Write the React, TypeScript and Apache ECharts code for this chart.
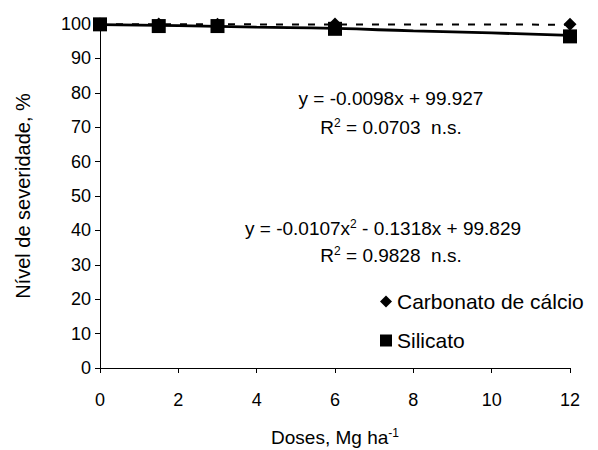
import React, { useEffect, useRef } from "react";
import * as echarts from "echarts";

const doses = [0, 1.5, 3, 6, 12];
const carbonato = [100, 100, 99.9, 100, 99.9];
const silicato = [99.9, 99.4, 99.4, 98.6, 96.4];
const trendX = [0, 12];
const carbonatoTrend = [99.93, 99.81];
const curveX = [0, 2, 4, 6, 8, 10, 12];
const silicatoCurve = [99.8, 99.5, 99.1, 98.7, 98.0, 97.4, 96.7];
const xTicks = [0, 2, 4, 6, 8, 10, 12];
const yTicks = [0, 10, 20, 30, 40, 50, 60, 70, 80, 90, 100];

const FONT = "'Liberation Sans', Arial, sans-serif";
const ANN = 19;

export default function App() {
  const ref = useRef<HTMLDivElement>(null);
  useEffect(() => {
    if (!ref.current) return;
    const chart = echarts.init(ref.current, undefined, { renderer: "svg" });
    const sup = { fontSize: 12, fontFamily: FONT, color: "#000", padding: [0, 0, 9, 0] };
    const base = { fontSize: ANN, fontFamily: FONT, color: "#000" };
    const txt = (text: string, x: number, y: number, size = ANN, rotation = 0) => ({
      type: "text",
      x,
      y,
      rotation,
      style: {
        text,
        x: 0,
        y: 0,
        textAlign: "center",
        textVerticalAlign: "middle",
        fontSize: size,
        fontFamily: FONT,
        fill: "#000",
        rich: { sup, n: { ...base, fontSize: size } },
      },
    });
    chart.setOption({
      animation: false,
      textStyle: { fontFamily: FONT },
      grid: {
        left: 100,
        right: 28,
        top: 24,
        bottom: 82,
        containLabel: false,
        outerBoundsMode: "none",
      },
      xAxis: {
        type: "value",
        min: xTicks[0],
        max: xTicks[xTicks.length - 1],
        interval: 2,
        axisLine: { lineStyle: { color: "#000", width: 1 } },
        axisTick: { show: true, length: 5, lineStyle: { color: "#000" } },
        axisLabel: { fontSize: 18, color: "#000", margin: 23, fontFamily: FONT },
        splitLine: { show: false },
      },
      yAxis: {
        type: "value",
        min: yTicks[0],
        max: yTicks[yTicks.length - 1],
        interval: 10,
        axisLine: { show: true, lineStyle: { color: "#000", width: 1 } },
        axisTick: { show: true, length: 5, lineStyle: { color: "#000" } },
        axisLabel: { fontSize: 18, color: "#000", margin: 9, fontFamily: FONT },
        splitLine: { show: false },
      },
      legend: {
        orient: "vertical",
        left: 375,
        top: 286,
        itemWidth: 12,
        itemHeight: 12,
        itemGap: 18,
        data: [
          { name: "Carbonato de cálcio", icon: "diamond" },
          { name: "Silicato", icon: "rect" },
        ],
        itemStyle: { opacity: 1 },
        textStyle: { fontSize: 21, color: "#000", fontFamily: FONT },
      },
      series: [
        {
          name: "trend-c",
          type: "line",
          data: trendX.map((x, i) => [x, carbonatoTrend[i]]),
          showSymbol: false,
          symbol: "none",
          lineStyle: { color: "#000", width: 2, type: [7, 9] },
          z: 2,
        },
        {
          name: "trend-s",
          type: "line",
          smooth: true,
          data: curveX.map((x, i) => [x, silicatoCurve[i]]),
          symbol: "none",
          lineStyle: { color: "#000", width: 2.8 },
          z: 2,
        },
        {
          name: "Carbonato de cálcio",
          type: "scatter",
          symbol: "diamond",
          symbolSize: 13,
          data: doses.map((x, i) => [x, carbonato[i]]),
          itemStyle: { color: "#000", opacity: 1 },
          z: 3,
        },
        {
          name: "Silicato",
          type: "scatter",
          symbol: "rect",
          symbolSize: 14,
          data: doses.map((x, i) => [x, silicato[i]]),
          itemStyle: { color: "#000", opacity: 1 },
          z: 4,
        },
      ],
      graphic: [
        txt("{n|y = -0.0098x + 99.927}", 391, 98),
        txt("{n|R}{sup|2}{n| = 0.0703 \u00a0n.s.}", 391, 127),
        txt("{n|y = -0.0107x}{sup|2}{n| - 0.1318x + 99.829}", 383, 228),
        txt("{n|R}{sup|2}{n| = 0.9828 \u00a0n.s.}", 391, 255),
        txt("{n|Doses, Mg ha}{sup|-1}", 335, 437),
        txt("{n|Nível de severidade, %}", 23, 196, 20, Math.PI / 2),
      ],
    });
    return () => chart.dispose();
  }, []);
  return (
    <div
      ref={ref}
      style={{ position: "fixed", left: 0, top: 0, width: 598, height: 450, background: "#fff" }}
    />
  );
}
